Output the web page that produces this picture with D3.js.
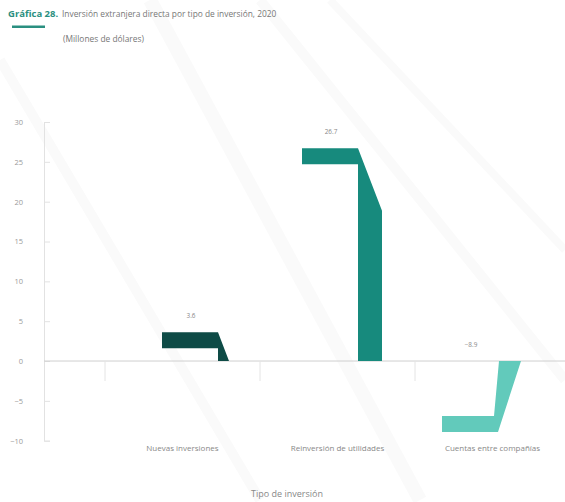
<!DOCTYPE html>
<html><head><meta charset="utf-8">
<script src="https://cdn.jsdelivr.net/npm/d3@7"></script>
<style>body{margin:0;background:#fff}svg{display:block;font-family:"Open Sans",sans-serif}</style>
</head><body>
<script>
const categories = ["Nuevas inversiones", "Reinversión de utilidades", "Cuentas entre compañías"];
const values = [3.6, 26.7, -8.9];
const yTicks = [-10, -5, 0, 5, 10, 15, 20, 25, 30];
const colors = ["#0e4b46", "#178a7d", "#62cabb"];
const stemW = [11, 24, 22];

const W = 565, H = 502;
const svg = d3.select("body").append("svg").attr("width", W).attr("height", H);

// faint background streaks
const bg = svg.append("g").attr("stroke", "#fafafa").attr("fill", "none");
[[150,0,420,500,14],[260,0,565,380,10],[330,0,565,250,8],[0,60,260,500,10]].forEach(l=>{
  bg.append("line").attr("x1",l[0]).attr("y1",l[1]).attr("x2",l[2]).attr("y2",l[3]).attr("stroke-width",l[4]);
});

const y = d3.scaleLinear().domain([-10, 30]).range([440.7, 122]);
const xBand = d3.scaleBand().domain(categories).range([105, 570]);
const xBar = d3.scalePoint().domain(categories).range([190, 470]);

// title
svg.append("text").attr("x", 8).attr("y", 17).attr("fill", "#2a8f80").attr("font-size", 9.5).attr("font-weight", 700).text("Gráfica 28.");
svg.append("rect").attr("x", 12).attr("y", 25.5).attr("width", 33).attr("height", 2.5).attr("fill", "#2a8f80");
svg.append("text").attr("x", 62).attr("y", 17).attr("fill", "#777").attr("font-size", 8.4).text("Inversión extranjera directa por tipo de inversión, 2020");
svg.append("text").attr("x", 63).attr("y", 42).attr("fill", "#777").attr("font-size", 8.4).text("(Millones de dólares)");

// y axis
const yAxis = svg.append("g").attr("transform", "translate(44,0)")
  .call(d3.axisRight(y).tickValues(yTicks).tickSize(6).tickFormat(d3.format("d")));
yAxis.select(".domain").attr("stroke", "#e2e2e2");
yAxis.selectAll(".tick line").attr("stroke", "#e2e2e2");
yAxis.selectAll(".tick text").attr("x", -21).attr("text-anchor", "end").attr("fill", "#9a9a9a").attr("font-size", 7.5).attr("font-family", "Open Sans");

// zero line
svg.append("line").attr("x1", 44).attr("x2", 565).attr("y1", y(0)).attr("y2", y(0)).attr("stroke", "#cfcfcf");

// x band boundary ticks
const bounds = categories.map(c => xBand(c)).concat([xBand.range()[1]]);
svg.append("g").selectAll("line").data(bounds).join("line")
  .attr("x1", d => d).attr("x2", d => d).attr("y1", y(0)).attr("y2", y(0) + 20)
  .attr("stroke", "#e4e4e4");

// category labels
svg.append("g").selectAll("text").data(categories).join("text")
  .attr("x", d => xBand(d) + xBand.bandwidth() / 2).attr("y", 451)
  .attr("text-anchor", "middle").attr("fill", "#888").attr("font-size", 8).text(d => d);

svg.append("text").attr("x", 287).attr("y", 497).attr("text-anchor", "middle")
  .attr("fill", "#888").attr("font-size", 9).text("Tipo de inversión");

// bars (mid-morph shapes)
const half = 28, t = 16, y0 = y(0);
function barPath(v, i) {
  const cx = xBar(categories[i]);
  const L = cx - half, R = cx + half, s = stemW[i];
  if (v >= 0) {
    const yt = y(v);
    const ys = Math.min(yt + 2.6 * s, y0);
    return `M${L},${yt}L${R},${yt}L${R + s},${ys}L${R + s},${y0}L${R},${y0}L${R},${yt + t}L${L},${yt + t}Z`;
  } else {
    const yb = y(v);
    return `M${L},${yb - t}L${R - 4},${yb - t}L${R + 1},${y0}L${R + 1 + s},${y0}L${R},${yb}L${L},${yb}Z`;
  }
}
svg.append("g").selectAll("path").data(values).join("path")
  .attr("d", (d, i) => barPath(d, i)).attr("fill", (d, i) => colors[i]);

// value labels
svg.append("g").selectAll("text").data(values).join("text")
  .attr("x", (d, i) => xBar(categories[i]) + 1).attr("y", d => y(Math.max(d, 0)) - 14)
  .attr("text-anchor", "middle").attr("fill", "#888").attr("font-size", 6.4)
  .text(d => d3.format(".1f")(d));
</script>
</body></html>
